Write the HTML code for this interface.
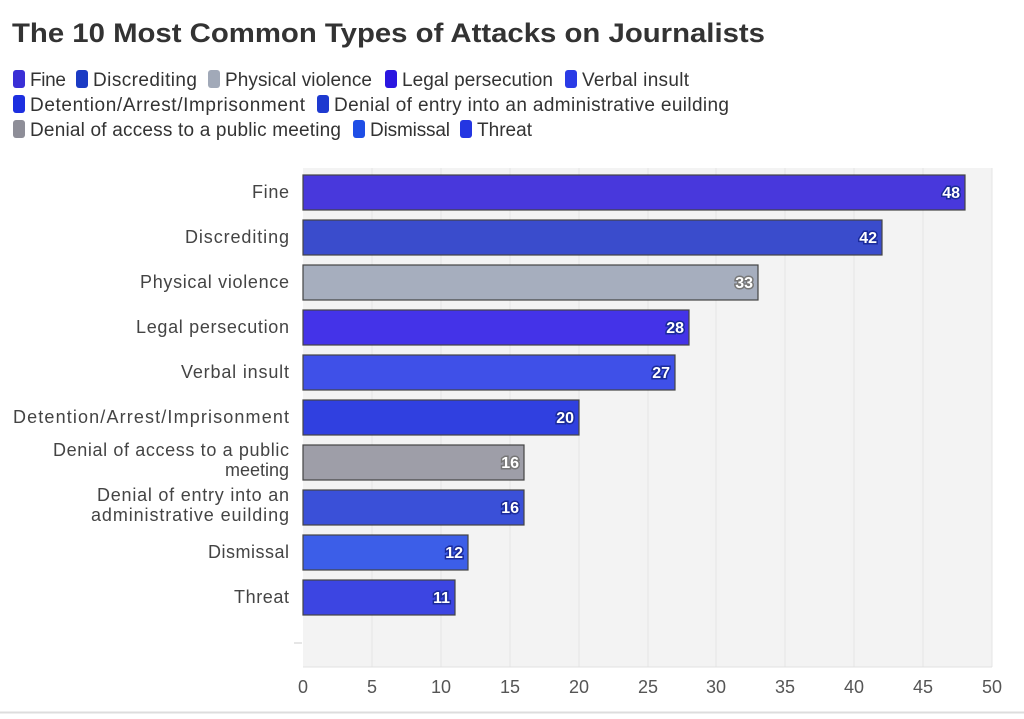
<!DOCTYPE html>
<html><head><meta charset="utf-8"><style>
body{margin:0;background:#fff;font-family:"Liberation Sans",sans-serif;}
</style></head><body>
<svg width="1024" height="714" xmlns="http://www.w3.org/2000/svg" font-family="Liberation Sans, sans-serif">
<rect x="0" y="0" width="1024" height="714" fill="#fff"/>
<line x1="0" y1="712.5" x2="1024" y2="712.5" stroke="#ddd" stroke-width="2"/>
<text x="12" y="42" font-size="27" font-weight="bold" fill="#333" textLength="753" lengthAdjust="spacingAndGlyphs">The 10 Most Common Types of Attacks on Journalists</text>
<g font-size="19" fill="#333" lengthAdjust="spacingAndGlyphs">
<rect x="13" y="70" width="12" height="18" rx="3" fill="#3a2fd6"/><text x="30" y="86" textLength="36">Fine</text>
<rect x="76" y="70" width="12" height="18" rx="3" fill="#1b3bc4"/><text x="93" y="86" textLength="104">Discrediting</text>
<rect x="208" y="70" width="12" height="18" rx="3" fill="#a1a9b8"/><text x="225" y="86" textLength="147">Physical violence</text>
<rect x="385" y="70" width="12" height="18" rx="3" fill="#2a16e0"/><text x="402" y="86" textLength="151">Legal persecution</text>
<rect x="565" y="70" width="12" height="18" rx="3" fill="#2a3be6"/><text x="582" y="86" textLength="107">Verbal insult</text>
<rect x="13" y="95" width="12" height="18" rx="3" fill="#1d2fe0"/><text x="30" y="111" textLength="275">Detention/Arrest/Imprisonment</text>
<rect x="317" y="95" width="12" height="18" rx="3" fill="#1e3ad0"/><text x="334" y="111" textLength="395">Denial of entry into an administrative euilding</text>
<rect x="13" y="120" width="12" height="18" rx="3" fill="#8e8e98"/><text x="30" y="136" textLength="311">Denial of access to a public meeting</text>
<rect x="353" y="120" width="12" height="18" rx="3" fill="#1f4ee6"/><text x="370" y="136" textLength="80">Dismissal</text>
<rect x="460" y="120" width="12" height="18" rx="3" fill="#2436e2"/><text x="477" y="136" textLength="55">Threat</text>
</g>
<rect x="303" y="168" width="689" height="499" fill="#f3f3f3"/>
<g stroke="#e4e4e4" stroke-width="1">
<line x1="372" y1="168" x2="372" y2="667"/><line x1="441" y1="168" x2="441" y2="667"/><line x1="510" y1="168" x2="510" y2="667"/><line x1="579" y1="168" x2="579" y2="667"/><line x1="648" y1="168" x2="648" y2="667"/><line x1="716" y1="168" x2="716" y2="667"/><line x1="785" y1="168" x2="785" y2="667"/><line x1="854" y1="168" x2="854" y2="667"/><line x1="923" y1="168" x2="923" y2="667"/><line x1="992" y1="168" x2="992" y2="667"/>
</g>
<line x1="303" y1="667" x2="992" y2="667" stroke="#e0e0e0"/>
<g stroke="#444" stroke-width="1.2">
<rect x="303" y="175" width="662" height="35" fill="#4838dc"/>
<rect x="303" y="220" width="579" height="35" fill="#3a4ccc"/>
<rect x="303" y="265" width="455" height="35" fill="#a6aebe"/>
<rect x="303" y="310" width="386" height="35" fill="#4433e8"/>
<rect x="303" y="355" width="372" height="35" fill="#3f50e8"/>
<rect x="303" y="400" width="276" height="35" fill="#3040e0"/>
<rect x="303" y="445" width="221" height="35" fill="#9e9ea8"/>
<rect x="303" y="490" width="221" height="35" fill="#3a50d8"/>
<rect x="303" y="535" width="165" height="35" fill="#3c5ee8"/>
<rect x="303" y="580" width="152" height="35" fill="#3c45e2"/>
</g>
<g font-size="16" font-weight="bold" fill="#fff" text-anchor="end" stroke="#1a2a9a" stroke-width="3" paint-order="stroke">
<text x="960" y="198">48</text><text x="877" y="243">42</text><text x="753" y="288" stroke="#777">33</text>
<text x="684" y="333">28</text><text x="670" y="378">27</text><text x="574" y="423">20</text>
<text x="519" y="468" stroke="#777">16</text><text x="519" y="513">16</text><text x="463" y="558">12</text><text x="450" y="603">11</text>
</g>
<g font-size="18" fill="#444" text-anchor="end" lengthAdjust="spacingAndGlyphs">
<text x="289" y="198" textLength="37">Fine</text><text x="289" y="243" textLength="104">Discrediting</text><text x="289" y="288" textLength="149">Physical violence</text>
<text x="289" y="333" textLength="153">Legal persecution</text><text x="289" y="378" textLength="108">Verbal insult</text><text x="289" y="423" textLength="276">Detention/Arrest/Imprisonment</text>
<text x="289" y="456" textLength="236">Denial of access to a public</text><text x="289" y="476">meeting</text>
<text x="289" y="501" textLength="192">Denial of entry into an</text><text x="289" y="521" textLength="198">administrative euilding</text>
<text x="289" y="558" textLength="81">Dismissal</text><text x="289" y="603" textLength="55">Threat</text>
</g>
<line x1="294" y1="643" x2="302" y2="643" stroke="#ccc"/>
<g font-size="18" fill="#555" text-anchor="middle">
<text x="303" y="693">0</text><text x="372" y="693">5</text><text x="441" y="693">10</text><text x="510" y="693">15</text><text x="579" y="693">20</text><text x="648" y="693">25</text><text x="716" y="693">30</text><text x="785" y="693">35</text><text x="854" y="693">40</text><text x="923" y="693">45</text><text x="992" y="693">50</text>
</g>
</svg>
</body></html>
